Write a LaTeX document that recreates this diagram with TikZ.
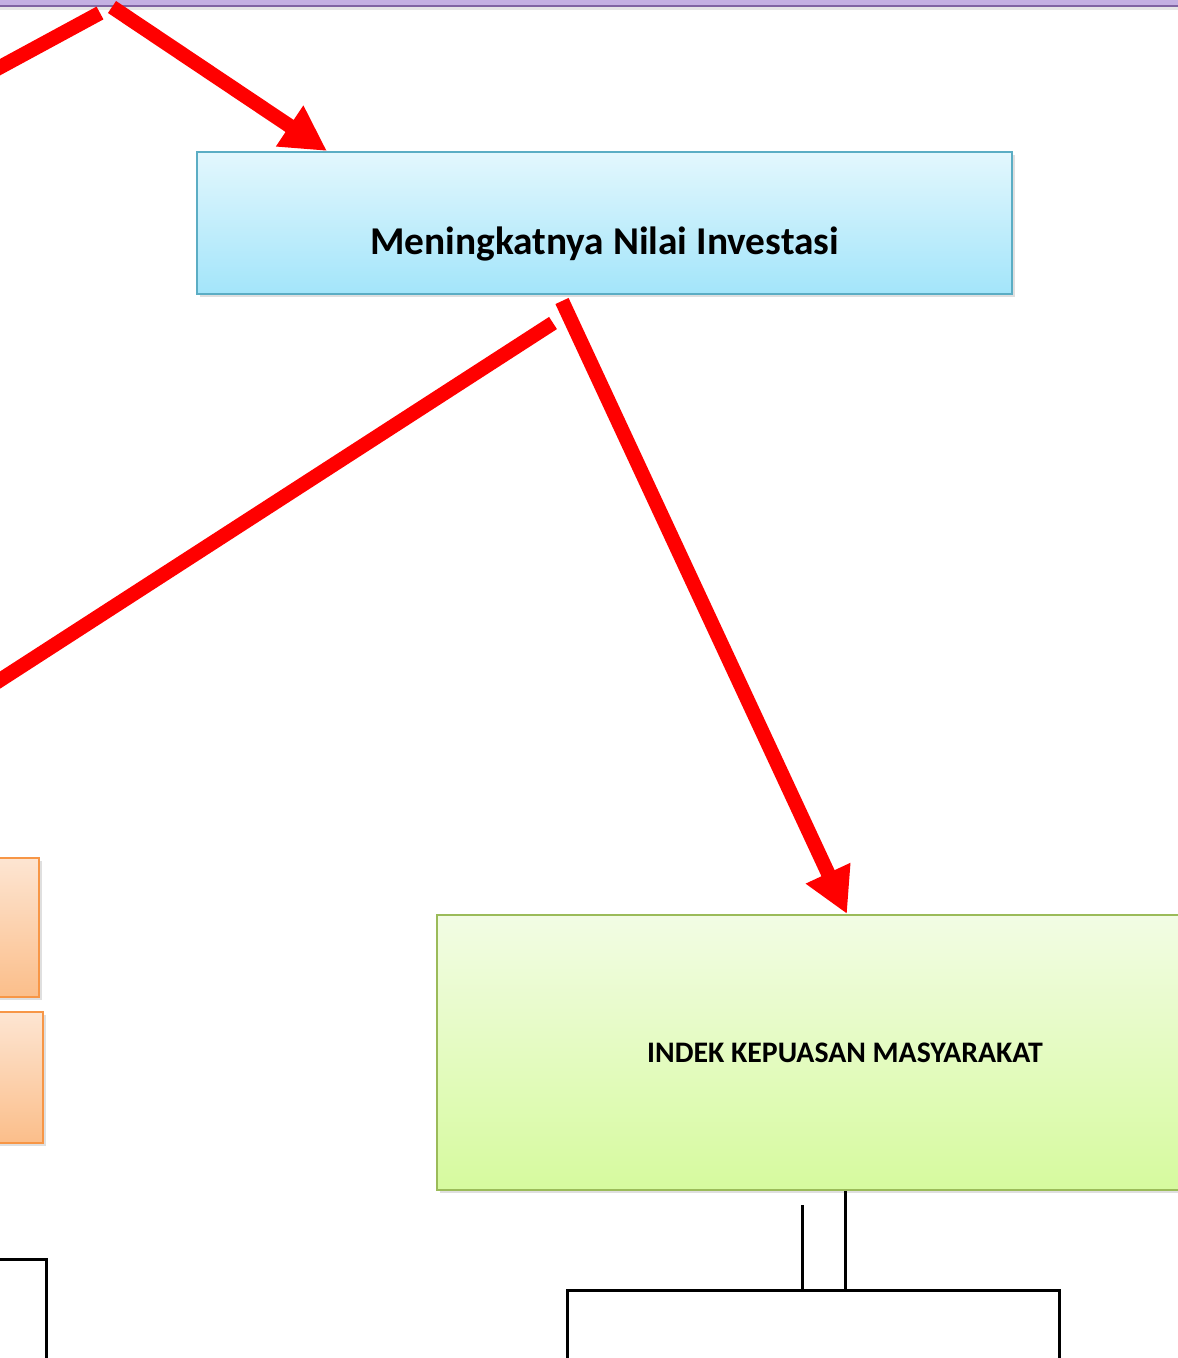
\documentclass[tikz,border=0pt]{standalone}
\usepackage{fontspec}
\setmainfont{Carlito}
\usepackage{xcolor}
\usetikzlibrary{arrows.meta,shadows,positioning}

\definecolor{purpleBar}{HTML}{C4B0E2}
\definecolor{purpleEdge}{HTML}{8064A2}
\definecolor{blueTop}{HTML}{E3F7FD}
\definecolor{blueBot}{HTML}{A3E5FA}
\definecolor{blueEdge}{HTML}{5BADC4}
\definecolor{greenTop}{HTML}{F2FCE4}
\definecolor{greenBot}{HTML}{D6FA9E}
\definecolor{greenEdge}{HTML}{9BBB59}
\definecolor{orangeTop}{HTML}{FDE5D2}
\definecolor{orangeBot}{HTML}{FBBE8A}
\definecolor{orangeEdge}{HTML}{F79646}

\tikzset{
  goalbox/.style={draw=#1Edge, line width=1pt, top color=#1Top, bottom color=#1Bot,
    drop shadow={shadow xshift=1.5pt, shadow yshift=-1.5pt, opacity=0.25}},
  plainbox/.style={draw=black, line width=1.5pt, fill=white},
  redarrow/.style={red, line width=7.25pt, -{Triangle[length=22.5pt,width=23pt]}},
  redline/.style={red, line width=7.25pt}
}

\begin{document}
\begin{tikzpicture}[x=0.5pt,y=-0.5pt]
    \useasboundingbox (0,0) rectangle (1177,1358);

    % Header bar
    \node[draw=purpleEdge, line width=1.2pt, fill=purpleBar, minimum width=600pt, minimum height=45pt,
      drop shadow={shadow xshift=0pt, shadow yshift=-2pt, opacity=0.2}] (header) at (588.5,-39) {};

    % Goal boxes
    \node[goalbox=blue, minimum width=407.5pt, minimum height=71pt] (invest) at (604.5,223) {};
    \node[font=\bfseries\fontsize{19.7}{22}\selectfont] (investText) at ([yshift=-10.5pt]invest.center) {Meningkatnya Nilai Investasi};

    \node[goalbox=green, minimum width=408pt, minimum height=137.5pt,
      font=\bfseries\fontsize{14.9}{17}\selectfont] (ikm) at (845,1052.5) {INDEK KEPUASAN MASYARAKAT};

    \node[goalbox=orange, minimum width=90pt, minimum height=69.5pt] (leftA) at (-51,927.5) {};
    \node[goalbox=orange, minimum width=90pt, minimum height=65.5pt] (leftB) at (-47,1077.5) {};

    % Lower boxes
    \node[plainbox, minimum width=246pt, minimum height=75pt] (detail) at (813,1365) {};
    \node[plainbox, minimum width=120pt, minimum height=75pt] (leftC) at (-74,1334) {};

    % Red arrows
    \coordinate (apexL) at (100,13);
    \coordinate (apexR) at (112,7);
    \coordinate (offL) at (-20,78);
    \coordinate (offLow) at (-20,693);
    \coordinate (fromA) at ([xshift=-25.75pt,yshift=-14pt]invest.south);
    \coordinate (fromB) at ([xshift=-21.25pt,yshift=-3pt]invest.south);

    \draw[redline] (apexL) -- (offL);
    \draw[redarrow] (apexR) -- ([xshift=65.5pt]invest.north west);
    \draw[redline] (fromA) -- (offLow);
    \draw[redarrow] (fromB) -- ([xshift=1pt]ikm.north);

    % Links below
    \coordinate (stub) at (802,1205);
    \draw[line width=1.5pt] (ikm.south) -- (ikm.south |- detail.north);
    \draw[line width=1.5pt] (stub) -- (stub |- detail.north);
\end{tikzpicture}
\end{document}
